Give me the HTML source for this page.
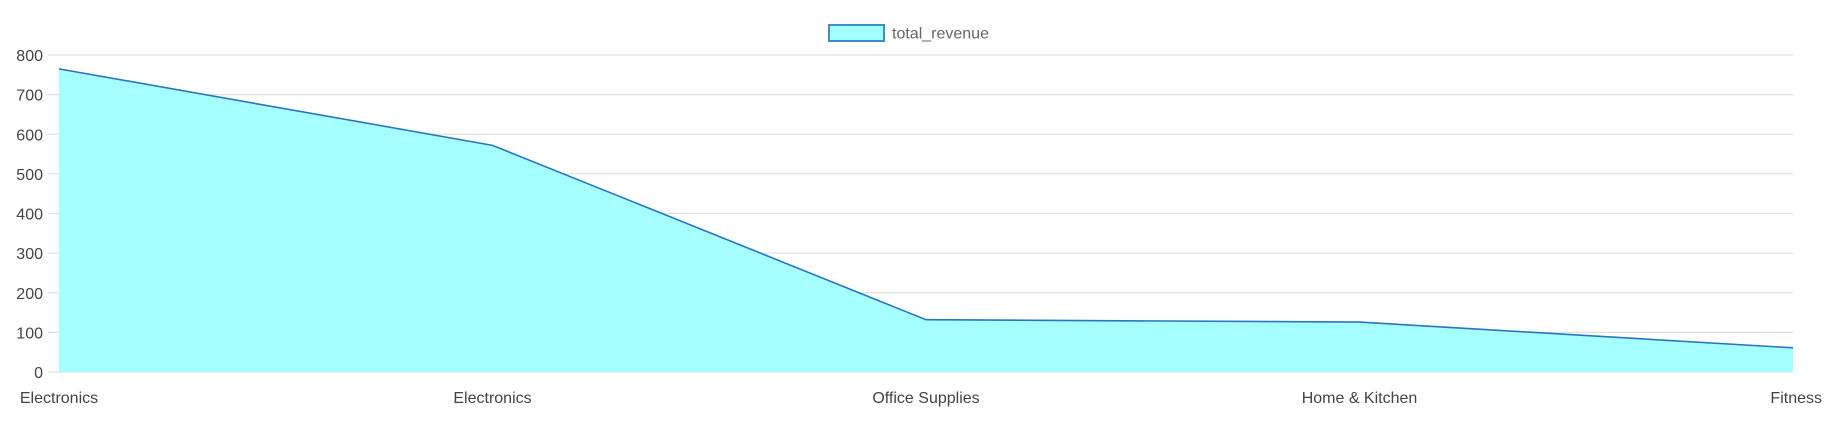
<!DOCTYPE html>
<html><head><meta charset="utf-8"><style>
html,body{margin:0;padding:0;background:#fff;}
svg{display:block;font-family:"Liberation Sans",Arial,sans-serif;}
</style></head><body>
<svg id="chart" width="1825" height="422" viewBox="0 0 1825 422">
<g id="grid"></g>
<g id="area"></g>
<g id="yticks"></g>
<g id="xticks"></g>
<g>
<rect x="829" y="25" width="55" height="16" fill="#a6ffff" stroke="#3a8fc8" stroke-width="2"/>
<text x="892" y="38.5" font-size="16" fill="#666">total_revenue</text>
</g>
</svg>
<script>
const categories = ["Electronics","Electronics","Office Supplies","Home & Kitchen","Fitness"];
const revenue = [765, 572, 132, 126, 61];
const yTicks = [0,100,200,300,400,500,600,700,800];

const NS="http://www.w3.org/2000/svg";
const L=59,R=1793,T=55,B=372,YMAX=800;
const xs=i=>L+(R-L)*i/(categories.length-1);
const ys=v=>B-(B-T)*v/YMAX;
function mk(tag,attrs,parent){const e=document.createElementNS(NS,tag);for(const k in attrs)e.setAttribute(k,attrs[k]);parent.appendChild(e);return e;}
const grid=document.getElementById('grid'),yt=document.getElementById('yticks'),xt=document.getElementById('xticks'),area=document.getElementById('area');
yTicks.forEach(v=>{
  const ln=mk('line',{x1:48,x2:R,y1:ys(v),y2:ys(v),stroke:'#e0e0e0','stroke-width':1.2},grid);
  
  
  const t=mk('text',{x:43,y:ys(v)+6,'text-anchor':'end','font-size':16,fill:'#444'},yt);
  t.textContent=v;
  
  
});
categories.forEach((c,i)=>{
  let anchor='middle',x=xs(i);
  if(i===categories.length-1){anchor='end';x=1822;}
  const t=mk('text',{x:x,y:403,'text-anchor':anchor,'font-size':16,fill:'#444'},xt);
  t.textContent=c;
  
  
});
let pts=revenue.map((v,i)=>xs(i)+','+ys(v)).join(' ');
const poly=mk('polygon',{points:L+','+B+' '+pts+' '+R+','+B,fill:'#a6ffff'},area);


const line=mk('polyline',{points:pts,fill:'none',stroke:'#2b74c0','stroke-width':1.6},area);


</script>
</body></html>
